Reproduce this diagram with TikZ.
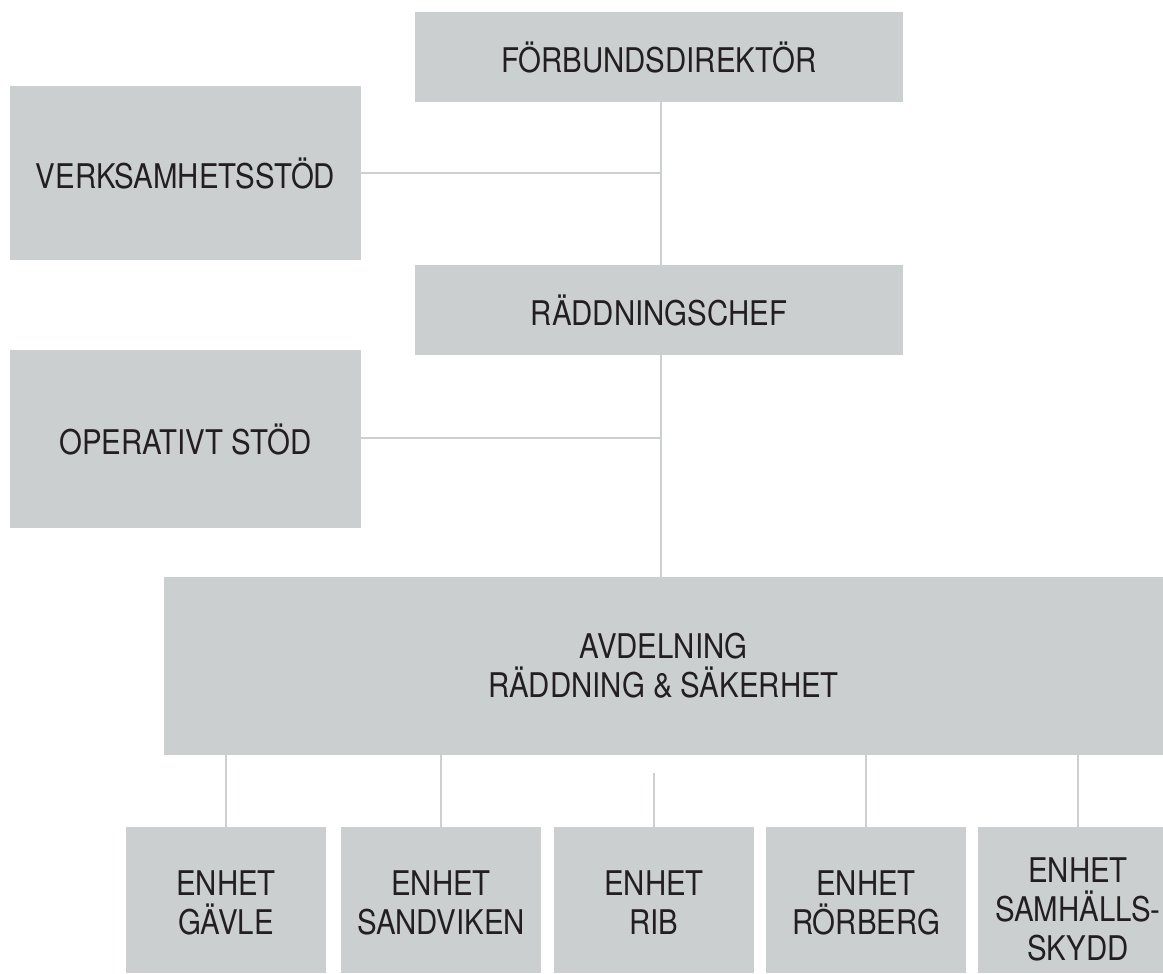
\documentclass[tikz,border=0pt]{standalone}
\usepackage{fontspec}
\setmainfont{TeX Gyre Heros}[FakeStretch=0.865]
\definecolor{boxgray}{HTML}{CBCFD0}
\definecolor{linegray}{HTML}{CDD0D1}
\definecolor{ink}{HTML}{231F20}
\tikzset{
  orgbox/.style={fill=boxgray, draw=none, inner sep=0pt, outer sep=0pt},
  lbl/.style={text=ink, font=\fontsize{17}{19.5}\selectfont, align=center, inner sep=0pt},
  conn/.style={draw=linegray, line width=1.35pt},
}
\begin{document}
\begin{tikzpicture}[x=0.5pt,y=-0.5pt]
\useasboundingbox (0,0) rectangle (1163,974);
\clip (0,0) rectangle (1163,974);
% boxes
\node[orgbox, minimum width=244pt, minimum height=45pt] (F) at (659,57) {};
\node[orgbox, minimum width=175.5pt, minimum height=87pt] (V) at (185.5,173) {};
\node[orgbox, minimum width=244pt, minimum height=45pt] (R) at (659,310) {};
\node[orgbox, minimum width=175.5pt, minimum height=89pt] (O) at (185.5,439) {};
\node[orgbox, minimum width=499.5pt, minimum height=89pt] (A) at (663.5,666) {};
\node[orgbox, minimum width=100pt, minimum height=73pt] (G) at (226,900) {};
\node[orgbox, minimum width=100pt, minimum height=73pt] (S) at (441,900) {};
\node[orgbox, minimum width=100pt, minimum height=73pt] (RIB) at (654,900) {};
\node[orgbox, minimum width=100pt, minimum height=73pt] (RO) at (866,900) {};
\node[orgbox, minimum width=100pt, minimum height=73pt] (SAM) at (1078,900) {};
% labels
\node[lbl] (tF) at (F.center) {FÖRBUNDSDIREKTÖR};
\node[lbl] (tV) at (V.center) {VERKSAMHETSSTÖD};
\node[lbl] (tR) at (R.center) {RÄDDNINGSCHEF};
\node[lbl] (tO) at (O.center) {OPERATIVT STÖD};
\node[lbl] (tA) at (A.center) {AVDELNING\\RÄDDNING \& SÄKERHET};
\node[lbl] (tG) at ([yshift=-1.5pt]G.center) {ENHET\\GÄVLE};
\node[lbl] (tS) at ([yshift=-1.5pt]S.center) {ENHET\\SANDVIKEN};
\node[lbl] (tRIB) at ([yshift=-1.5pt]RIB.center) {ENHET\\RIB};
\node[lbl] (tRO) at ([yshift=-1.5pt]RO.center) {ENHET\\RÖRBERG};
\node[lbl] (tSAM) at ([yshift=-4.5pt]SAM.center) {ENHET\\SAMHÄLLS-\\SKYDD};
% connectors
\coordinate (j1) at (661,173);
\coordinate (j2) at (661,438);
\coordinate (ribtop) at (654,773);
\draw[conn] (F.south -| j1) -- (R.north -| j1);
\draw[conn] (V.east |- j1) -- (j1);
\draw[conn] (R.south -| j2) -- (A.north -| j2);
\draw[conn] (O.east |- j2) -- (j2);
\foreach \n in {G,S,RO,SAM} \draw[conn] (A.south -| \n.north) -- (\n.north);
\draw[conn] (ribtop) -- (RIB.north);
\end{tikzpicture}
\end{document}
